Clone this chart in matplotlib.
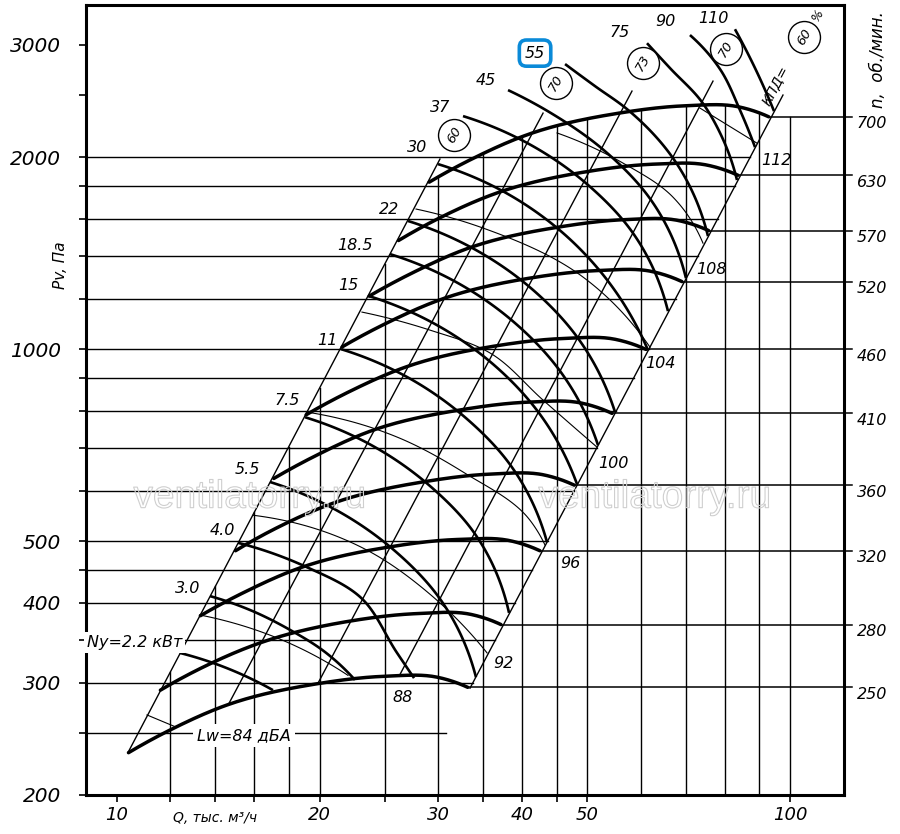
import numpy as np
import matplotlib
matplotlib.use("Agg")
import matplotlib.pyplot as plt
import matplotlib.patheffects as pe
import matplotlib.transforms as mtransforms
from matplotlib.ticker import NullFormatter

# fan curves for each speed n (rpm); Q in 1000 m3/h, Pv in Pa
fan_n = [250, 280, 320, 360, 410, 460, 520, 570, 630, 700]
fan_q = [
    [10.4, 12.0, 14.6, 19.9, 25.0, 29.9, 33.2],
    [11.6, 13.4, 16.4, 22.3, 28.0, 33.5, 37.2],
    [13.3, 15.4, 18.7, 25.5, 32.0, 38.3, 42.5],
    [15.0, 17.3, 21.0, 28.7, 36.0, 43.1, 47.8],
    [17.1, 19.7, 23.9, 32.6, 41.0, 49.0, 54.4],
    [19.1, 22.1, 26.9, 36.6, 46.0, 55.0, 61.1],
    [21.6, 25.0, 30.4, 41.4, 52.0, 62.2, 69.1],
    [23.7, 27.4, 33.3, 45.4, 57.0, 68.2, 75.7],
    [26.2, 30.2, 36.8, 50.1, 63.0, 75.3, 83.7],
    [29.1, 33.6, 40.9, 55.7, 70.0, 83.7, 93.0],
]
fan_p = [
    [233, 253, 277, 299, 307, 306, 295],
    [292, 317, 347, 375, 385, 384, 370],
    [382, 415, 454, 490, 503, 501, 483],
    [483, 525, 574, 620, 637, 635, 612],
    [627, 680, 745, 804, 826, 823, 793],
    [789, 857, 938, 1012, 1039, 1036, 999],
    [1008, 1095, 1198, 1294, 1328, 1324, 1276],
    [1211, 1315, 1440, 1554, 1596, 1591, 1534],
    [1480, 1607, 1759, 1899, 1950, 1943, 1873],
    [1827, 1984, 2172, 2344, 2407, 2399, 2313],
]

# shaft power lines Ny, kW
power_kw = ["2.2", "3.0", "4.0", "5.5", "7.5", "11", "15", "18.5", "22", "30",
            "37", "45", "55", "75", "90", "110"]
power_q = [
    [12.40, 14.47, 17.05],
    [13.75, 15.76, 18.07, 20.38, 22.57],
    [15.13, 19.16, 22.96, 26.07, 27.63],
    [16.88, 21.45, 25.80, 30.19, 34.15],
    [19.03, 24.17, 29.08, 34.04, 38.24],
    [21.52, 27.35, 32.89, 38.50, 43.55],
    [23.68, 30.09, 36.21, 42.37, 48.26],
    [25.45, 32.33, 38.90, 45.53, 51.85],
    [27.07, 34.39, 41.37, 48.42, 54.95],
    [29.99, 38.11, 45.85, 53.66, 61.52],
    [32.67, 41.51, 49.94, 58.44, 65.87],
    [38.11, 44.15, 53.11, 62.15, 70.05],
    [46.32, 51.32, 57.26, 67.00, 75.53],
    [61.31, 66.32, 74.00, 79.24, 83.41],
    [71.02, 78.70, 84.27, 88.72],
    [82.84, 88.72, 94.68],
]
power_p = [
    [334, 317, 292],
    [410, 390, 363, 335, 303],
    [497, 455, 409, 334, 305],
    [619, 555, 484, 406, 306],
    [782, 702, 612, 513, 386],
    [1000, 897, 782, 656, 498],
    [1211, 1086, 947, 794, 614],
    [1409, 1264, 1102, 924, 707],
    [1588, 1424, 1242, 1040, 797],
    [1950, 1750, 1525, 1278, 996],
    [2319, 2080, 1814, 1520, 1147],
    [2547, 2344, 2043, 1713, 1292],
    [2798, 2584, 2378, 1993, 1504],
    [3017, 2758, 2439, 2150, 1841],
    [3107, 2748, 2370, 2073],
    [3173, 2758, 2361],
]

# sound power level lines Lw, dBA
lw_db = [84, 88, 92, 96, 100, 104, 108, 112]
lw_q = [
    [11.08, 12.19],
    [13.28, 18.58, 22.04],
    [15.93, 23.52, 29.48, 35.47],
    [19.10, 26.07, 32.89, 41.09, 43.25],
    [23.12, 29.18, 35.84, 42.96, 51.67],
    [27.82, 34.99, 49.26, 61.94],
    [45.07, 56.48, 67.00, 74.25],
    [73.49, 89.33],
]
lw_p = [
    [267, 256],
    [383, 341, 308],
    [549, 484, 409, 334],
    [797, 728, 639, 539, 493],
    [1143, 1071, 986, 832, 702],
    [1658, 1548, 1297, 1007],
    [2182, 1957, 1731, 1466],
    [2387, 2103],
]

# efficiency lines (КПД, %), end points
eff_pct = [60, 70, 73, 70, 60]
eff_q = [(10.38, 30.19), (14.62, 42.96), (19.89, 58.24), (26.25, 76.84), (33.46, 97.63)]
eff_p = [(233, 1986), (276.6, 2344), (299.4, 2538), (307.1, 2631), (294.1, 2502)]

# background grid
grid_p = [250, 300, 350, 400, 450, 500, 600, 700, 800, 900, 1000, 1200, 1400, 1600, 1800, 2000]
grid_q = [12, 14, 16, 18, 20, 25, 30, 35, 40, 45, 50, 60, 70, 80, 90, 100]

# label placement (Q, Pv)
power_lbl = [(10.62, 347), (12.75, 422), (14.32, 520), (15.61, 648), (17.89, 832),
             (20.51, 1033), (22.04, 1260), (22.57, 1456), (25.37, 1658), (27.92, 2073),
             (30.19, 2396), (35.34, 2641), (41.80, 2911), (55.9, 3141), (65.2, 3257),
             (76.84, 3304)]
lw_lbl = [(15.44, 248), (26.61, 284.7), (37.46, 321.9), (47.12, 461.8), (54.58, 662.9),
          (64.11, 950.7), (76.31, 1335), (95.33, 1972)]
eff_lbl = [(31.68, 2166), (44.92, 2613), (60.48, 2808), (80.33, 2953), (104.9, 3085)]


def smooth(q, p, k=30):
    # cubic Hermite through the read points (chord-length), in log-log space
    pts = np.column_stack([np.log10(q), np.log10(p)])
    if len(pts) < 3:
        return np.asarray(q, float), np.asarray(p, float)
    h = np.hypot(*np.diff(pts, axis=0).T)
    d = np.diff(pts, axis=0) / h[:, None]
    m = np.zeros_like(pts)
    m[1:-1] = (d[:-1] * h[1:, None] + d[1:] * h[:-1, None]) / (h[:-1] + h[1:])[:, None]
    m[0] = (d[0] * (2 * h[0] + h[1]) - d[1] * h[0]) / (h[0] + h[1])
    m[-1] = (d[-1] * (2 * h[-1] + h[-2]) - d[-2] * h[-1]) / (h[-1] + h[-2])
    t = np.linspace(0, 1, k)[:, None]
    h00 = 2 * t**3 - 3 * t**2 + 1
    h10 = t**3 - 2 * t**2 + t
    h01 = -2 * t**3 + 3 * t**2
    h11 = t**3 - t**2
    segs = []
    for i in range(len(pts) - 1):
        seg = (h00 * pts[i] + h10 * h[i] * m[i]
               + h01 * pts[i + 1] + h11 * h[i] * m[i + 1])
        segs.append(seg if i == 0 else seg[1:])
    out = np.vstack(segs)
    return 10 ** out[:, 0], 10 ** out[:, 1]


def on_line(q0, q1, p0, p1, p=None, q=None):
    # point on a straight log-log line through two points
    s = np.log10(p1 / p0) / np.log10(q1 / q0)
    if p is not None:
        return q0 * (p / p0) ** (1 / s)
    return p0 * (q / q0) ** s


fig = plt.figure(figsize=(9, 8.34), dpi=100)
ax = fig.add_axes([86 / 900, 1 - 795 / 834, 758 / 900, 790 / 834])
ax.set_xscale("log")
ax.set_yscale("log")
ax.set_xlim(8.993, 120.3)
ax.set_ylim(200, 3463)

ital = dict(fontstyle="italic", family="DejaVu Sans")

# horizontal grid: from the left axis to the right 60 % line
for p in grid_p:
    qr = on_line(eff_q[-1][0], eff_q[-1][1], eff_p[-1][0], eff_p[-1][1], p=p)
    ax.plot([8.993, qr], [p, p], color="black", lw=1.0, zorder=1)

# vertical grid: from the bottom to the left 60 % line / top fan curve
tq, tp = smooth(fan_q[-1], fan_p[-1])
for q in grid_q:
    p_left = on_line(eff_q[0][0], eff_q[0][1], eff_p[0][0], eff_p[0][1], q=q)
    if q < tq[0]:
        p_top = p_left
    elif q > tq[-1]:
        p_top = tp[-1]
    else:
        p_top = min(p_left, 10 ** np.interp(np.log10(q), np.log10(tq), np.log10(tp)))
    ax.plot([q, q], [200, p_top], color="black", lw=1.0, zorder=1)

# efficiency lines
for (q0, q1), (p0, p1) in zip(eff_q, eff_p):
    ax.plot([q0, q1], [p0, p1], color="black", lw=1.0, zorder=2)

# sound level lines
for q, p in zip(lw_q, lw_p):
    sq, sp = smooth(q, p)
    ax.plot(sq, sp, color="black", lw=0.8, zorder=2)

# power lines
for q, p in zip(power_q, power_p):
    sq, sp = smooth(q, p)
    ax.plot(sq, sp, color="black", lw=1.9, zorder=3, solid_capstyle="butt")

# fan curves and their n lines to the right axis
for n, q, p in zip(fan_n, fan_q, fan_p):
    sq, sp = smooth(q, p)
    ax.plot(sq, sp, color="black", lw=2.5, zorder=4, solid_capstyle="round")
    ax.plot([q[-1], 123.6], [p[-1], p[-1]], color="black", lw=1.1, zorder=1, clip_on=False)
    ax.annotate(str(n), xy=(1.017, p[-1]), xycoords=("axes fraction", "data"),
                xytext=(0, -5), textcoords="offset points", va="center", ha="left",
                fontsize=11.5, annotation_clip=False, **ital)

# labels
for txt, (q, p) in zip(power_kw, power_lbl):
    if txt == "2.2":
        ax.text(q, p, "Ny=2.2 кВт", fontsize=11.5, ha="center", va="center", zorder=6,
                bbox=dict(fc="white", ec="none", pad=2), **ital)
    elif txt == "55":
        ax.text(q, p, txt, fontsize=11.5, ha="center", va="center", zorder=6,
                bbox=dict(boxstyle="round,pad=0.35,rounding_size=0.45", fc="white",
                          ec="#0a8ad8", lw=2.6), **ital)
    else:
        ax.text(q, p, txt, fontsize=11.5, ha="center", va="center", zorder=6, **ital)

for db, (q, p) in zip(lw_db, lw_lbl):
    if db == 84:
        ax.text(q, p, "Lw=84 дБА", fontsize=11.5, ha="center", va="center", zorder=6,
                bbox=dict(fc="white", ec="none", pad=3), **ital)
    else:
        ax.text(q, p, str(db), fontsize=11.5, ha="center", va="center", zorder=6, **ital)

for pct, (q, p) in zip(eff_pct, eff_lbl):
    ax.plot(q, p, "o", ms=23, mfc="white", mec="black", mew=1.0, zorder=5)
    ax.text(q, p, str(pct), fontsize=9.5, rotation=60, ha="center", va="center",
            zorder=6, **ital)
ax.text(95.0, 2594, "КПД=", fontsize=10, rotation=62, ha="center", va="center", **ital)
ax.text(110.1, 3340, "%", fontsize=9, rotation=60, ha="center", va="center", **ital)

# watermark
for q in (15.76, 63.0):
    ax.text(q, 585, "ventilatorry.ru", fontsize=28, color="none", ha="center",
            va="center", zorder=7, family="Liberation Sans",
            path_effects=[pe.Stroke(linewidth=0.8, foreground="#cfcfcf")])

# axes and ticks
y_major = [200, 300, 400, 500, 1000, 2000, 3000]
y_minor = [250, 350, 450, 600, 700, 800, 900, 1200, 1400, 1600, 1800, 2500]
ax.set_yticks(y_major)
ax.set_yticklabels([str(v) for v in y_major], fontsize=14.5, **ital)
ax.set_yticks(y_minor, minor=True)
x_major = [10, 20, 30, 40, 50, 100]
x_minor = [12, 14, 16, 25, 35, 45]
ax.set_xticks(x_major)
ax.set_xticklabels([str(v) for v in x_major], fontsize=13, **ital)
ax.set_xticks(x_minor, minor=True)
ax.xaxis.set_minor_formatter(NullFormatter())
ax.yaxis.set_minor_formatter(NullFormatter())
ax.tick_params(which="both", direction="out", length=5, width=1.2)
ax.tick_params(axis="y", which="major", pad=13)
ax.tick_params(axis="x", which="major", pad=3)
for s in ax.spines.values():
    s.set_linewidth(2.2)

ax.text(-0.034, 1354, "Pv, Па", rotation=90, fontsize=11, ha="center", va="center",
        transform=mtransforms.blended_transform_factory(ax.transAxes, ax.transData), **ital)
ax.text(1.045, 2839, "n,  об./мин.", rotation=90, fontsize=12, ha="center", va="center",
        transform=mtransforms.blended_transform_factory(ax.transAxes, ax.transData), **ital)
ax.text(13.98, -0.029, "Q, тыс. м³/ч", fontsize=10, ha="center", va="center",
        transform=mtransforms.blended_transform_factory(ax.transData, ax.transAxes), **ital)

fig.savefig("out.png", dpi=100)
